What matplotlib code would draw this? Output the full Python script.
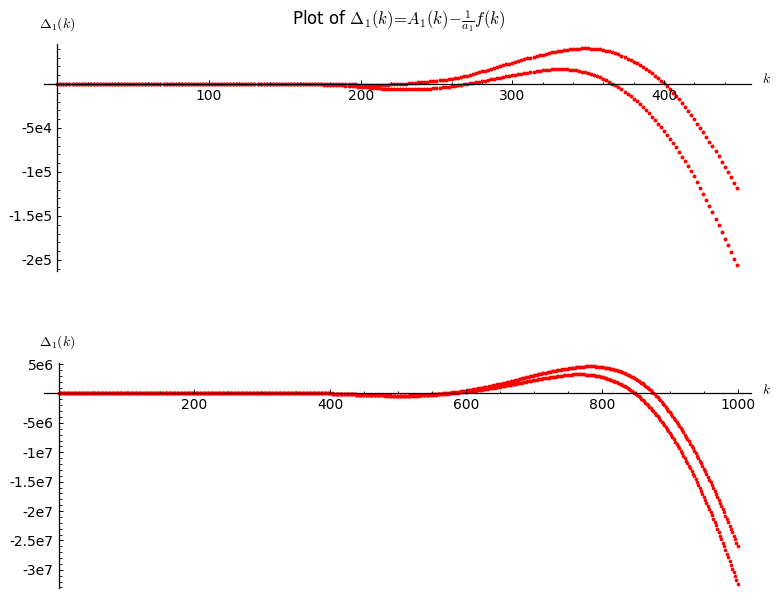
import numpy as np
import matplotlib
matplotlib.use("Agg")
import matplotlib.pyplot as plt
from matplotlib.ticker import MultipleLocator, FuncFormatter

plt.rcParams['font.family'] = ['DejaVu Sans']
plt.rcParams['mathtext.fontset'] = 'cm'

# top panel: k = 0, 2, ..., 448 ; values in units of 1e3
top_k = list(range(0, 450, 2))
top_upper = [
    0, 0, 0, 0, 0, 0, 0, 0, 0, 0,
    0, 0, 0, 0, 0, 0, 0, 0, 0, 0,
    0, 0, 0, 0, 0, 0, 0, 0, 0, 0,
    0, 0, 0, 0, 0, 0, 0, 0, 0, 0,
    0, 0, 0, 0, 0, 0, 0, 0, 0, 0,
    0, 0, 0, 0, 0, 0, 0, 0, 0, 0,
    0, 0, 0, 0, 0, 0, 0, 0, 0, 0,
    0, 0, 0, 0, 0, 0, 0, 0, 0, 0,
    0, 0, 0, 0, 0, 0, 0, 0, 0, 0,
    0, -0.1, -0.1, -0.2, -0.2, -0.3, -0.4, -0.5, -0.5, -0.6,
    -0.7, -0.7, -0.8, -0.8, -0.9, -0.9, -0.9, -0.8, -0.7, -0.6,
    -0.5, -0.3, -0.1, 0.1, 0.3, 0.5, 0.8, 1.1, 1.4, 1.7,
    2.0, 2.3, 2.7, 3.0, 3.4, 3.8, 4.2, 4.6, 5.1, 5.5,
    6.0, 6.6, 7.3, 8.0, 8.7, 9.5, 10.4, 11.4, 12.3, 13.3,
    14.3, 15.3, 16.3, 17.3, 18.3, 19.3, 20.3, 21.3, 22.3, 23.2,
    24.2, 25.2, 26.1, 27.1, 28.0, 29.0, 29.9, 30.8, 31.7, 32.6,
    33.5, 34.3, 35.0, 35.8, 36.5, 37.2, 37.8, 38.3, 38.8, 39.3,
    39.8, 40.0, 40.3, 40.4, 40.5, 40.5, 40.3, 40.0, 39.7, 39.2,
    38.7, 37.9, 37.0, 36.0, 34.9, 33.8, 32.2, 30.6, 28.9, 27.2,
    25.4, 23.4, 21.3, 19.3, 17.2, 15.0, 12.3, 9.5, 6.7, 3.8,
    0.8, -2.7, -6.2, -9.9, -13.7, -17.5, -21.8, -26.2, -30.6, -35.3,
    -40.0, -44.9, -49.9, -55.0, -60.2, -65.5, -71.0, -76.6, -82.2, -88.1,
    -94.0, -99.9, -105.9, -112.0, -118.0,
]
top_lower = [
    0, 0, 0, 0, 0, 0, 0, 0, 0, 0,
    0, 0, 0, 0, 0, 0, 0, 0, 0, 0,
    0, 0, 0, 0, 0, 0, 0, 0, 0, 0,
    0, 0, 0, 0, 0, 0, 0, 0, 0, 0,
    0, 0, 0, 0, 0, 0, 0, 0, 0, 0,
    0, 0, 0, 0, 0, 0, 0, 0, 0, 0,
    0, 0, 0, 0, 0, 0, 0, 0, 0, 0,
    0, 0, 0, 0, 0, 0, 0, 0, 0, 0,
    0, 0, 0, 0, 0, -0.3, -0.4, -0.5, -0.6, -0.7,
    -0.8, -1.0, -1.2, -1.4, -1.6, -1.8, -2.1, -2.4, -2.6, -2.9,
    -3.2, -3.5, -3.8, -4.2, -4.5, -4.8, -5.0, -5.3, -5.5, -5.7,
    -5.9, -6.0, -6.1, -6.1, -6.2, -6.2, -6.1, -6.1, -6.0, -5.9,
    -5.8, -5.6, -5.4, -5.2, -5.0, -4.7, -4.3, -3.9, -3.5, -3.1,
    -2.7, -2.1, -1.5, -0.9, -0.4, 0.2, 0.8, 1.4, 2.0, 2.6,
    3.2, 3.9, 4.6, 5.2, 5.9, 6.6, 7.3, 8.0, 8.6, 9.3,
    10.0, 10.6, 11.2, 11.8, 12.4, 13.0, 13.5, 14.0, 14.5, 15.1,
    15.6, 15.9, 16.2, 16.5, 16.7, 17.0, 17.0, 16.9, 16.7, 16.4,
    16.0, 15.4, 14.8, 14.1, 13.4, 12.6, 11.4, 10.2, 8.9, 7.5,
    6.0, 4.2, 2.3, 0.3, -1.7, -3.8, -6.2, -8.7, -11.2, -13.9,
    -16.6, -19.8, -23.1, -26.5, -30.0, -33.5, -37.4, -41.4, -45.4, -49.4,
    -53.5, -58.0, -62.6, -67.3, -72.1, -77.0, -82.4, -87.9, -93.4, -98.9,
    -104.5, -111.1, -117.8, -124.6, -131.5, -138.5, -145.8, -153.2, -160.6, -168.1,
    -175.7, -183.3, -190.9, -198.4, -206.0,
]

# bottom panel: k = 0, 2, ..., 1000 ; values in units of 1e5
bot_k = list(range(0, 1001, 2))
bot_upper = [
    0, 0, 0, 0, 0, 0, 0, 0, 0, 0,
    0, 0, 0, 0, 0, 0, 0, 0, 0, 0,
    0, 0, 0, 0, 0, 0, 0, 0, 0, 0,
    0, 0, 0, 0, 0, 0, 0, 0, 0, 0,
    0, 0, 0, 0, 0, 0, 0, 0, 0, 0,
    0, 0, 0, 0, 0, 0, 0, 0, 0, 0,
    0, 0, 0, 0, 0, 0, 0, 0, 0, 0,
    0, 0, 0, 0, 0, 0, 0, 0, 0, 0,
    0, 0, 0, 0, 0, 0, 0, 0, 0, 0,
    0, 0, 0, 0, 0, 0, 0, 0, 0, 0,
    0, 0, 0, 0, 0, 0, 0, 0, 0, 0,
    0, 0, 0, 0, 0, 0, 0, 0, 0, 0,
    0, 0.0, 0.0, 0.1, 0.1, 0.1, 0.1, 0.1, 0.2, 0.2,
    0.2, 0.2, 0.3, 0.3, 0.3, 0.3, 0.4, 0.4, 0.4, 0.5,
    0.5, 0.6, 0.6, 0.7, 0.7, 0.8, 0.8, 0.9, 0.9, 1.0,
    1.0, 1.0, 1.1, 1.1, 1.1, 1.2, 1.2, 1.2, 1.3, 1.3,
    1.3, 1.3, 1.3, 1.4, 1.4, 1.4, 1.4, 1.4, 1.4, 1.4,
    1.4, 1.4, 1.4, 1.4, 1.3, 1.3, 1.3, 1.3, 1.2, 1.2,
    1.2, 1.1, 1.1, 1.0, 1.0, 0.9, 0.9, 0.8, 0.8, 0.7,
    0.7, 0.6, 0.5, 0.5, 0.4, 0.3, 0.3, 0.2, 0.1, 0.1,
    0.0, -0.1, -0.2, -0.3, -0.4, -0.4, -0.5, -0.6, -0.7, -0.8,
    -0.9, -1.0, -1.1, -1.2, -1.3, -1.4, -1.4, -1.5, -1.6, -1.7,
    -1.8, -1.9, -2.0, -2.1, -2.2, -2.3, -2.3, -2.4, -2.5, -2.6,
    -2.7, -2.8, -2.8, -2.9, -3.0, -3.0, -3.1, -3.1, -3.2, -3.2,
    -3.3, -3.3, -3.4, -3.4, -3.4, -3.5, -3.5, -3.5, -3.6, -3.6,
    -3.6, -3.6, -3.6, -3.6, -3.6, -3.5, -3.5, -3.5, -3.5, -3.4,
    -3.4, -3.3, -3.2, -3.1, -3.0, -2.9, -2.8, -2.7, -2.6, -2.5,
    -2.4, -2.2, -2.1, -1.9, -1.7, -1.6, -1.4, -1.2, -1.0, -0.9,
    -0.7, -0.5, -0.2, 0.0, 0.2, 0.4, 0.7, 0.9, 1.2, 1.4,
    1.7, 2.0, 2.3, 2.6, 2.9, 3.2, 3.6, 3.9, 4.3, 4.6,
    5.0, 5.4, 5.8, 6.1, 6.5, 6.9, 7.3, 7.7, 8.2, 8.6,
    9.0, 9.5, 9.9, 10.4, 10.8, 11.3, 11.8, 12.3, 12.8, 13.3,
    13.8, 14.3, 14.8, 15.4, 15.9, 16.4, 16.9, 17.5, 18.1, 18.6,
    19.2, 19.8, 20.3, 20.9, 21.5, 22.1, 22.7, 23.3, 23.8, 24.4,
    25.0, 25.6, 26.2, 26.7, 27.3, 27.9, 28.5, 29.1, 29.6, 30.2,
    30.8, 31.4, 31.9, 32.5, 33.0, 33.6, 34.1, 34.6, 35.2, 35.7,
    36.2, 36.7, 37.1, 37.6, 38.0, 38.5, 38.9, 39.3, 39.8, 40.2,
    40.6, 41.0, 41.4, 41.7, 42.1, 42.5, 42.8, 43.2, 43.5, 43.9,
    44.2, 44.5, 44.8, 45.0, 45.3, 45.6, 45.7, 45.9, 46.0, 46.2,
    46.3, 46.3, 46.3, 46.2, 46.1, 46.0, 45.8, 45.6, 45.4, 45.2,
    44.9, 44.5, 44.1, 43.7, 43.3, 42.9, 42.4, 41.8, 41.3, 40.7,
    40.1, 39.4, 38.7, 37.9, 37.1, 36.2, 35.3, 34.3, 33.3, 32.3,
    31.2, 30.0, 28.8, 27.5, 26.3, 25.0, 23.5, 21.9, 20.3, 18.7,
    17.1, 15.3, 13.5, 11.6, 9.5, 7.4, 5.2, 3.0, 0.8, -1.6,
    -4.1, -6.7, -9.3, -11.9, -14.7, -17.4, -20.3, -23.2, -26.1, -29.1,
    -32.2, -35.3, -38.5, -41.7, -45.0, -48.4, -51.8, -55.3, -58.8, -62.4,
    -66.1, -69.8, -73.5, -77.4, -81.2, -85.2, -89.2, -93.2, -97.3, -101.5,
    -105.7, -110.0, -114.4, -118.8, -123.2, -127.8, -132.3, -137.0, -141.7, -146.4,
    -151.2, -156.1, -161.0, -166.0, -171.1, -176.2, -181.3, -186.5, -191.8, -197.1,
    -202.5, -208.0, -213.5, -219.1, -224.7, -230.4, -236.1, -241.9, -247.7, -253.7,
    -259.6,
]
bot_lower = [
    0, 0, 0, 0, 0, 0, 0, 0, 0, 0,
    0, 0, 0, 0, 0, 0, 0, 0, 0, 0,
    0, 0, 0, 0, 0, 0, 0, 0, 0, 0,
    0, 0, 0, 0, 0, 0, 0, 0, 0, 0,
    0, 0, 0, 0, 0, 0, 0, 0, 0, 0,
    0, 0, 0, 0, 0, 0, 0, 0, 0, 0,
    0, 0, 0, 0, 0, 0, 0, 0, 0, 0,
    0, 0, 0, 0, 0, 0, 0, 0, 0, 0,
    0, 0, 0, 0, 0, 0, 0, 0, 0, 0,
    0, 0, 0, 0, 0, 0, 0, 0, 0, 0,
    0, 0, 0, 0, 0, 0, 0, 0, 0, 0,
    0, 0, 0, 0, 0, 0, 0, 0, 0, 0,
    0, 0.0, 0.0, 0.1, 0.1, 0.1, 0.1, 0.1, 0.2, 0.2,
    0.2, 0.2, 0.2, 0.3, 0.3, 0.3, 0.3, 0.4, 0.4, 0.4,
    0.4, 0.5, 0.5, 0.5, 0.6, 0.6, 0.6, 0.6, 0.7, 0.7,
    0.7, 0.8, 0.8, 0.8, 0.9, 0.9, 0.9, 0.9, 1.0, 1.0,
    1.0, 1.0, 1.0, 1.1, 1.1, 1.1, 1.1, 1.1, 1.2, 1.2,
    1.2, 1.2, 1.2, 1.2, 1.2, 1.2, 1.2, 1.2, 1.2, 1.2,
    1.2, 1.2, 1.1, 1.1, 1.0, 1.0, 1.0, 0.9, 0.9, 0.8,
    0.8, 0.7, 0.7, 0.6, 0.6, 0.5, 0.4, 0.3, 0.3, 0.2,
    0.1, 0.0, -0.1, -0.2, -0.3, -0.4, -0.5, -0.6, -0.7, -0.8,
    -0.9, -1.0, -1.1, -1.2, -1.3, -1.4, -1.5, -1.6, -1.7, -1.8,
    -1.9, -2.0, -2.1, -2.2, -2.3, -2.4, -2.5, -2.6, -2.6, -2.7,
    -2.8, -2.9, -3.0, -3.0, -3.1, -3.2, -3.3, -3.3, -3.4, -3.4,
    -3.5, -3.5, -3.6, -3.6, -3.7, -3.8, -3.8, -3.8, -3.9, -3.9,
    -3.9, -3.9, -3.9, -3.9, -3.9, -3.9, -3.9, -3.9, -3.8, -3.8,
    -3.8, -3.7, -3.6, -3.6, -3.5, -3.5, -3.4, -3.3, -3.2, -3.1,
    -3.0, -2.8, -2.7, -2.6, -2.4, -2.3, -2.1, -2.0, -1.8, -1.7,
    -1.5, -1.3, -1.1, -1.0, -0.8, -0.6, -0.4, -0.1, 0.1, 0.3,
    0.5, 0.7, 1.0, 1.2, 1.5, 1.7, 2.0, 2.2, 2.5, 2.7,
    3.0, 3.3, 3.6, 3.8, 4.1, 4.4, 4.7, 5.0, 5.4, 5.7,
    6.0, 6.3, 6.7, 7.0, 7.4, 7.7, 8.1, 8.5, 8.8, 9.2,
    9.6, 10.0, 10.4, 10.8, 11.2, 11.6, 12.0, 12.5, 12.9, 13.4,
    13.8, 14.2, 14.7, 15.1, 15.6, 16.0, 16.5, 16.9, 17.4, 17.8,
    18.3, 18.7, 19.2, 19.7, 20.1, 20.6, 21.0, 21.5, 21.9, 22.4,
    22.8, 23.2, 23.6, 24.1, 24.5, 24.9, 25.3, 25.7, 26.1, 26.5,
    26.9, 27.2, 27.5, 27.9, 28.2, 28.5, 28.9, 29.3, 29.6, 30.0,
    30.3, 30.6, 30.9, 31.2, 31.5, 31.7, 31.9, 32.1, 32.3, 32.4,
    32.5, 32.6, 32.6, 32.6, 32.6, 32.6, 32.5, 32.4, 32.3, 32.2,
    32.0, 31.8, 31.5, 31.2, 30.9, 30.5, 30.1, 29.6, 29.1, 28.6,
    28.0, 27.4, 26.7, 26.0, 25.3, 24.5, 23.7, 22.9, 22.0, 21.0,
    20.0, 19.0, 17.9, 16.8, 15.7, 14.5, 13.2, 11.9, 10.5, 8.9,
    7.2, 5.7, 4.1, 2.5, 0.8, -0.9, -2.8, -4.7, -6.7, -8.8,
    -10.9, -13.1, -15.4, -17.7, -20.1, -22.6, -25.1, -27.7, -30.3, -33.1,
    -35.9, -38.7, -41.6, -44.6, -47.7, -50.8, -54.0, -57.3, -60.6, -64.0,
    -67.4, -71.0, -74.6, -78.2, -81.9, -85.7, -89.6, -93.5, -97.5, -101.5,
    -105.6, -109.8, -114.1, -118.4, -122.8, -127.2, -131.7, -136.3, -141.0, -145.7,
    -150.5, -155.3, -160.2, -165.2, -170.3, -175.4, -180.5, -185.8, -191.1, -196.5,
    -201.9, -207.4, -213.0, -218.7, -224.4, -230.1, -236.0, -241.9, -247.9, -253.9,
    -260.0, -266.2, -272.4, -278.7, -285.1, -291.5, -298.0, -304.6, -311.2, -317.9,
    -324.7,
]

assert len(top_upper) == len(top_k) and len(top_lower) == len(top_k)
assert len(bot_upper) == len(bot_k) and len(bot_lower) == len(bot_k)

W, H = 781, 600


def sci_label(v, pos):
    if abs(v) < 1e-9:
        return ''
    e = int(np.floor(np.log10(abs(v)) + 1e-9))
    m = v / 10 ** e
    return '%ge%d' % (round(m, 6), e)


def int_label(v, pos):
    if abs(v) < 1e-9:
        return ''
    return '%d' % v


def sage_axes(ax, xmaj, xmin, ymaj, ymin):
    for s in ['top', 'right']:
        ax.spines[s].set_visible(False)
    ax.spines['left'].set_position(('data', 0))
    ax.spines['bottom'].set_position(('data', 0))
    ax.spines['left'].set_linewidth(0.9)
    ax.spines['bottom'].set_linewidth(0.9)
    ax.xaxis.set_major_locator(MultipleLocator(xmaj))
    ax.xaxis.set_minor_locator(MultipleLocator(xmin))
    ax.yaxis.set_major_locator(MultipleLocator(ymaj))
    ax.yaxis.set_minor_locator(MultipleLocator(ymin))
    ax.xaxis.set_major_formatter(FuncFormatter(int_label))
    ax.yaxis.set_major_formatter(FuncFormatter(sci_label))
    ax.tick_params(which='major', direction='in', length=3.2, width=0.7, labelsize=10)
    ax.tick_params(which='minor', direction='in', length=1.8, width=0.6)
    ax.patch.set_visible(False)


def px_rect(left, top, right, bottom):
    return [left / W, 1 - bottom / H, (right - left) / W, (bottom - top) / H]


fig = plt.figure(figsize=(W / 100, H / 100), dpi=100)

ax1 = fig.add_axes(px_rect(44, 44.3, 751, 271))
ax1.scatter(top_k, np.array(top_upper) * 1e3, s=8, c='#ff0000', linewidths=0)
ax1.scatter(top_k, np.array(top_lower) * 1e3, s=8, c='#ff0000', linewidths=0)
ax1.set_xlim(-8.8, 457.4)
ax1.set_ylim(-212.5e3, 45.1e3)
sage_axes(ax1, 100, 20, 5e4, 1e4)

ax2 = fig.add_axes(px_rect(44, 362.7, 751, 588.3))
ax2.scatter(bot_k, np.array(bot_upper) * 1e5, s=7, c='#ff0000', linewidths=0)
ax2.scatter(bot_k, np.array(bot_lower) * 1e5, s=7, c='#ff0000', linewidths=0)
ax2.set_xlim(-21.5, 1019.6)
ax2.set_ylim(-33.15e6, 5.24e6)
sage_axes(ax2, 200, 50, 5e6, 1e6)

# axis labels and title
fig.text(57.5 / W, 1 - 28 / H, r'$\Delta_1(k)$', ha='center', va='baseline', fontsize=10)
fig.text(57.5 / W, 1 - 346 / H, r'$\Delta_1(k)$', ha='center', va='baseline', fontsize=10)
fig.text(766 / W, 1 - 83 / H, r'$k$', ha='center', va='baseline', fontsize=10)
fig.text(766.5 / W, 1 - 394 / H, r'$k$', ha='center', va='baseline', fontsize=10)
fig.text(399 / W, 1 - 25 / H, r'Plot of $\Delta_1(k)\!=\!A_1(k)\!-\!\frac{1}{a_1}f(k)$',
         ha='center', va='baseline', fontsize=12)

fig.savefig('out.png', dpi=100)
